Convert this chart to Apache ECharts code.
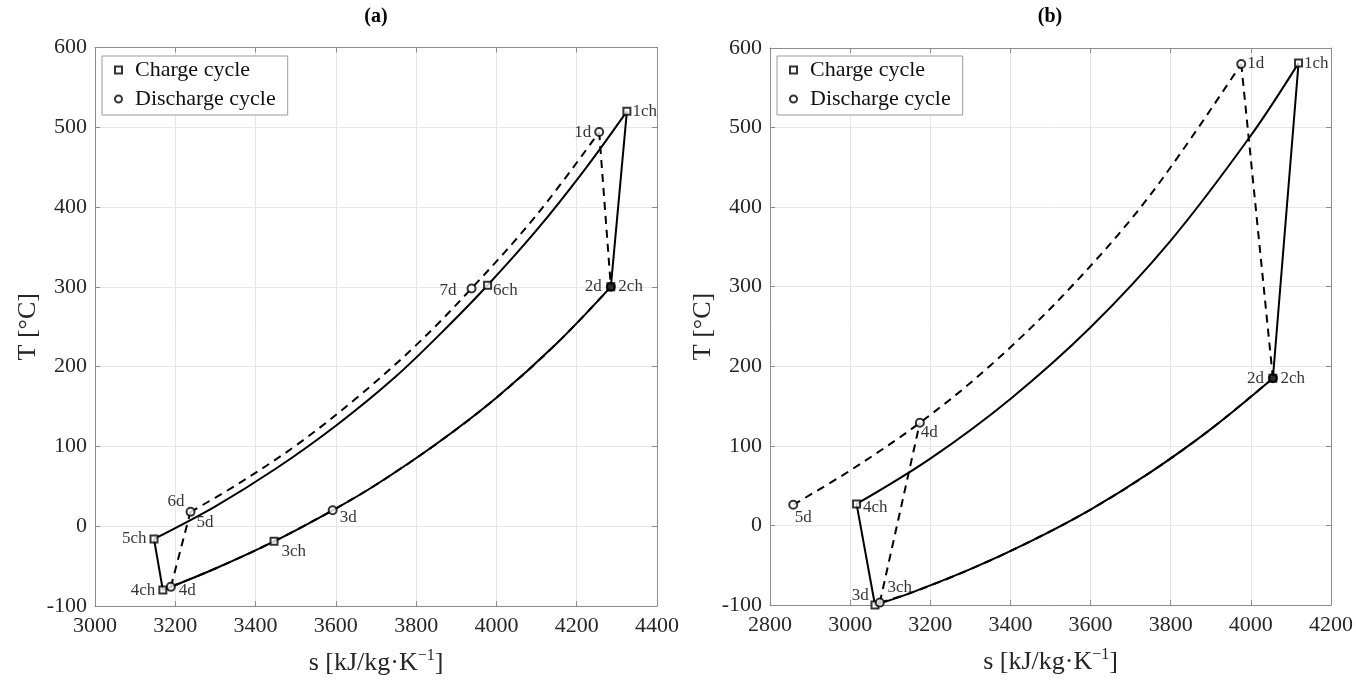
<!DOCTYPE html>
<html>
<head>
<meta charset="utf-8">
<script src="https://cdn.jsdelivr.net/npm/echarts@6/dist/echarts.min.js"></script>
<style>
  html, body { margin: 0; padding: 0; background: #fff; }
  #chart { width: 1356px; height: 681px; }
</style>
</head>
<body>
<div id="chart"></div>
<script>
// ---------- panel (a): state points ----------
const aChargeNames = ['1ch', '2ch', '3ch', '4ch', '5ch', '6ch'];
const aChargeS = [4325, 4285, 3446, 3169, 3147, 3978];
const aChargeT = [520, 300, -19, -80, -16, 302];
const aDischargeNames = ['1d', '2d', '3d', '4d', '5d', '6d', '7d'];
const aDischargeS = [4256, 4285, 3592, 3189, 3233, 3238, 3938];
const aDischargeT = [494, 300, 20, -76, 9, 18, 298];
// panel (a): isobar traces
const aLowS = [3169, 3300, 3446, 3592, 3700, 3850, 4000, 4150, 4285];
const aLowT = [-80, -53, -19, 20, 52, 103, 161, 229, 300];
const aChargeUpS = [3147, 3300, 3450, 3600, 3750, 3878, 3978, 4100, 4220, 4325];
const aChargeUpT = [-16, 25, 72, 126, 188, 250, 302, 371, 447, 520];
const aDischargeUpS = [3238, 3350, 3500, 3650, 3800, 3938, 4100, 4256];
const aDischargeUpT = [18, 51, 101, 160, 227, 298, 390, 494];

// ---------- panel (b): state points ----------
const bChargeNames = ['1ch', '2ch', '3ch', '4ch'];
const bChargeS = [4119, 4055, 3062, 3016];
const bChargeT = [581, 185, -100, 27];
const bDischargeNames = ['1d', '2d', '3d', '4d', '5d'];
const bDischargeS = [3976, 4055, 3074, 3174, 2858];
const bDischargeT = [580, 185, -97, 129, 26];
// panel (b): isobar traces
const bLowS = [3062, 3150, 3300, 3450, 3600, 3750, 3900, 4055];
const bLowT = [-100, -85, -55, -20, 20, 67, 121, 185];
const bChargeUpS = [3016, 3200, 3400, 3600, 3800, 4000, 4119];
const bChargeUpT = [27, 84, 159, 249, 358, 490, 581];
const bDischargeUpS = [2858, 3000, 3174, 3350, 3550, 3750, 3976];
const bDischargeUpT = [26, 69, 129, 201, 299, 416, 580];

// ---------- axes ----------
const aSAxis = { min: 3000, max: 4400, interval: 200 };
const bSAxis = { min: 2800, max: 4200, interval: 200 };
const tAxis = { min: -100, max: 600, interval: 100 };
const panelTitles = ['(a)', '(b)'];
const seriesNames = ['Charge cycle', 'Discharge cycle'];
const sAxisName = ['s [kJ/kg·K', '−1', ']'];
const tAxisName = 'T [°C]';

// ---------- styling ----------
const FONT = '"Liberation Serif", "Times New Roman", serif';
const FRAME = '#8c8c8c';
const GRIDLINE = '#e6e6e6';
const INK = '#000';

const aLabelPos = {
  '1ch': { position: 'right', distance: 1 },
  '2ch': { position: 'right', distance: 3 },
  '3ch': { position: 'right', distance: 3, offset: [0, 10] },
  '4ch': { position: 'left', distance: 3 },
  '5ch': { position: 'left', distance: 3 },
  '6ch': { position: 'right', distance: 1, offset: [0, 5] },
  '1d': { position: 'left', distance: 3 },
  '2d': { position: 'left', distance: 4 },
  '3d': { position: 'right', distance: 2, offset: [0, 7] },
  '4d': { position: 'right', distance: 3, offset: [0, 4] },
  '5d': { position: 'right', distance: 8, offset: [0, 3] },
  '6d': { position: 'left', distance: 1, offset: [0, -10] },
  '7d': { position: 'left', distance: 10, offset: [0, 2] }
};
const bLabelPos = {
  '1ch': { position: 'right', distance: 1 },
  '2ch': { position: 'right', distance: 3 },
  '3ch': { position: 'right', distance: 8, offset: [0, -17] },
  '4ch': { position: 'right', distance: 2, offset: [0, 4] },
  '1d': { position: 'right', distance: 1 },
  '2d': { position: 'left', distance: 4 },
  '3d': { position: 'left', distance: 6, offset: [0, -7] },
  '4d': { position: 'right', distance: 0, offset: [-4, 10] },
  '5d': { position: 'bottom', distance: 0, offset: [10, -1] }
};
// filled / hidden markers
const filledMarkers = ['2d'];
const hiddenMarkers = { a: ['5d'], b: [] };

function pts(S, T) { return S.map((s, i) => [s, T[i]]); }
function at(names, S, T, n) { const i = names.indexOf(n); return [S[i], T[i]]; }

function line(panel, data, opts) {
  const ax = panel === 'a' ? 0 : 2;
  return {
    type: 'line', name: opts.name, xAxisIndex: ax, yAxisIndex: ax,
    data: data, symbol: 'none', showSymbol: false,
    smooth: opts.smooth ? 0.35 : false,
    lineStyle: { color: INK, width: 2, type: opts.dashed ? [8, 6] : 'solid' },
    z: opts.dashed ? 2 : 3, silent: true, animation: false
  };
}

function markers(panel, seriesName, names, S, T, shape, labelPos) {
  const ax = panel === 'a' ? 0 : 2;
  const hidden = hiddenMarkers[panel];
  return {
    type: 'scatter', name: seriesName, xAxisIndex: ax, yAxisIndex: ax,
    symbol: shape, symbolSize: shape === 'rect' ? 7 : 8,
    itemStyle: { color: '#fff', borderColor: INK, borderWidth: 2 },
    z: 5, silent: true, animation: false,
    data: names.map((n, i) => {
      const item = {
        name: n, value: [S[i], T[i]],
        label: Object.assign({ show: true, formatter: '{b}', fontFamily: FONT, fontSize: 17, color: INK }, labelPos[n] || {})
      };
      if (filledMarkers.includes(n)) item.itemStyle = { color: INK, borderColor: INK };
      if (hidden.includes(n)) { item.symbolSize = 0.1; item.itemStyle = { color: 'transparent', borderWidth: 0 }; }
      return item;
    })
  };
}

// ---------- panel (a) paths ----------
const aC = (n) => at(aChargeNames, aChargeS, aChargeT, n);
const aD = (n) => at(aDischargeNames, aDischargeS, aDischargeT, n);
const aLow = pts(aLowS, aLowT);
const aDischargeLow = aLow.filter(p => p[0] >= 3300);
aDischargeLow.unshift(aD('4d'));

const aSeries = [
  line('a', [aD('1d'), aD('2d')], { name: 'd1', dashed: true }),
  line('a', aDischargeLow, { name: 'd2', dashed: true, smooth: true }),
  line('a', [aD('4d'), aD('5d'), aD('6d')], { name: 'd3', dashed: true }),
  line('a', pts(aDischargeUpS, aDischargeUpT), { name: 'd4', dashed: true, smooth: true }),
  line('a', [aC('1ch'), aC('2ch')], { name: 'c1' }),
  line('a', aLow, { name: 'c2', smooth: true }),
  line('a', [aC('4ch'), aC('5ch')], { name: 'c3' }),
  line('a', pts(aChargeUpS, aChargeUpT), { name: 'c4', smooth: true }),
  markers('a', seriesNames[0], aChargeNames, aChargeS, aChargeT, 'rect', aLabelPos),
  markers('a', seriesNames[1], aDischargeNames, aDischargeS, aDischargeT, 'circle', aLabelPos)
];

// ---------- panel (b) paths ----------
const bC = (n) => at(bChargeNames, bChargeS, bChargeT, n);
const bD = (n) => at(bDischargeNames, bDischargeS, bDischargeT, n);
const bLow = pts(bLowS, bLowT);
const bDischargeLow = bLow.filter(p => p[0] >= 3150);
bDischargeLow.unshift(bD('3d'));

const bSeries = [
  line('b', [bD('1d'), bD('2d')], { name: 'd1', dashed: true }),
  line('b', bDischargeLow, { name: 'd2', dashed: true, smooth: true }),
  line('b', [bD('3d'), bD('4d')], { name: 'd3', dashed: true }),
  line('b', pts(bDischargeUpS, bDischargeUpT), { name: 'd4', dashed: true, smooth: true }),
  line('b', [bC('1ch'), bC('2ch')], { name: 'c1' }),
  line('b', bLow, { name: 'c2', smooth: true }),
  line('b', [bC('3ch'), bC('4ch')], { name: 'c3' }),
  line('b', pts(bChargeUpS, bChargeUpT), { name: 'c4', smooth: true }),
  markers('b', seriesNames[0], bChargeNames, bChargeS, bChargeT, 'rect', bLabelPos),
  markers('b', seriesNames[1], bDischargeNames, bDischargeS, bDischargeT, 'circle', bLabelPos)
];

// ---------- axis builders ----------
const tickLabel = { fontFamily: FONT, fontSize: 22, color: '#262626', formatter: (v) => String(v) };
const nameRich = {
  a: { fontFamily: FONT, fontSize: 26, color: '#262626', lineHeight: 30 },
  s: { fontFamily: FONT, fontSize: 16, color: '#262626', verticalAlign: 'top', lineHeight: 16 }
};

function sAxis(grid, range, mirror) {
  return Object.assign({
    type: 'value', gridIndex: grid, position: mirror ? 'top' : 'bottom',
    axisLine: { show: true, onZero: false, lineStyle: { color: FRAME, width: 1 } },
    axisTick: { show: true, inside: true, length: 5, lineStyle: { color: FRAME } },
    axisLabel: mirror ? { show: false } : Object.assign({ margin: 9 }, tickLabel),
    splitLine: { show: !mirror, lineStyle: { color: GRIDLINE, width: 1 } },
    name: mirror ? '' : '{a|' + sAxisName[0] + '}{s|' + sAxisName[1] + '}{a|' + sAxisName[2] + '}',
    nameLocation: 'middle', nameGap: 42,
    nameTextStyle: { rich: nameRich }
  }, range);
}
function tAxisDef(grid, mirror) {
  return Object.assign({
    type: 'value', gridIndex: grid, position: mirror ? 'right' : 'left',
    axisLine: { show: true, onZero: false, lineStyle: { color: FRAME, width: 1 } },
    axisTick: { show: true, inside: true, length: 5, lineStyle: { color: FRAME } },
    axisLabel: mirror ? { show: false } : Object.assign({ margin: 8 }, tickLabel),
    splitLine: { show: !mirror, lineStyle: { color: GRIDLINE, width: 1 } },
    name: mirror ? '' : tAxisName, nameLocation: 'middle', nameGap: 54,
    nameTextStyle: { fontFamily: FONT, fontSize: 26, color: '#262626' }
  }, tAxis);
}

function legendAt(left) {
  return {
    left: left, top: 56, orient: 'vertical',
    padding: [3, 12, 5, 12], itemGap: 7, itemWidth: 7, itemHeight: 7,
    borderColor: '#9a9a9a', borderWidth: 1, backgroundColor: '#fff',
    selectedMode: false,
    textStyle: { fontFamily: FONT, fontSize: 22, color: '#111', padding: [0, 0, 0, 8] },
    data: [
      { name: seriesNames[0], icon: 'rect', itemStyle: { color: '#fff', borderColor: INK, borderWidth: 2 } },
      { name: seriesNames[1], icon: 'circle', itemStyle: { color: '#fff', borderColor: INK, borderWidth: 2 } }
    ]
  };
}

const chart = echarts.init(document.getElementById('chart'), null, { renderer: 'canvas' });
chart.setOption({
  animation: false,
  backgroundColor: '#fff',
  grid: [
    { left: 95, top: 47.5, width: 562, height: 559 },
    { left: 770, top: 48, width: 561, height: 557 }
  ],
  xAxis: [sAxis(0, aSAxis, false), sAxis(0, aSAxis, true), sAxis(1, bSAxis, false), sAxis(1, bSAxis, true)],
  yAxis: [tAxisDef(0, false), tAxisDef(0, true), tAxisDef(1, false), tAxisDef(1, true)],
  legend: [legendAt(102), legendAt(777)],
  graphic: [
    { type: 'text', x: 376, y: 17, style: { text: panelTitles[0], font: 'bold 20px ' + FONT, fill: INK, align: 'center', verticalAlign: 'middle' } },
    { type: 'text', x: 1050, y: 17, style: { text: panelTitles[1], font: 'bold 20px ' + FONT, fill: INK, align: 'center', verticalAlign: 'middle' } }
  ],
  series: aSeries.concat(bSeries)
});
</script>
</body>
</html>
